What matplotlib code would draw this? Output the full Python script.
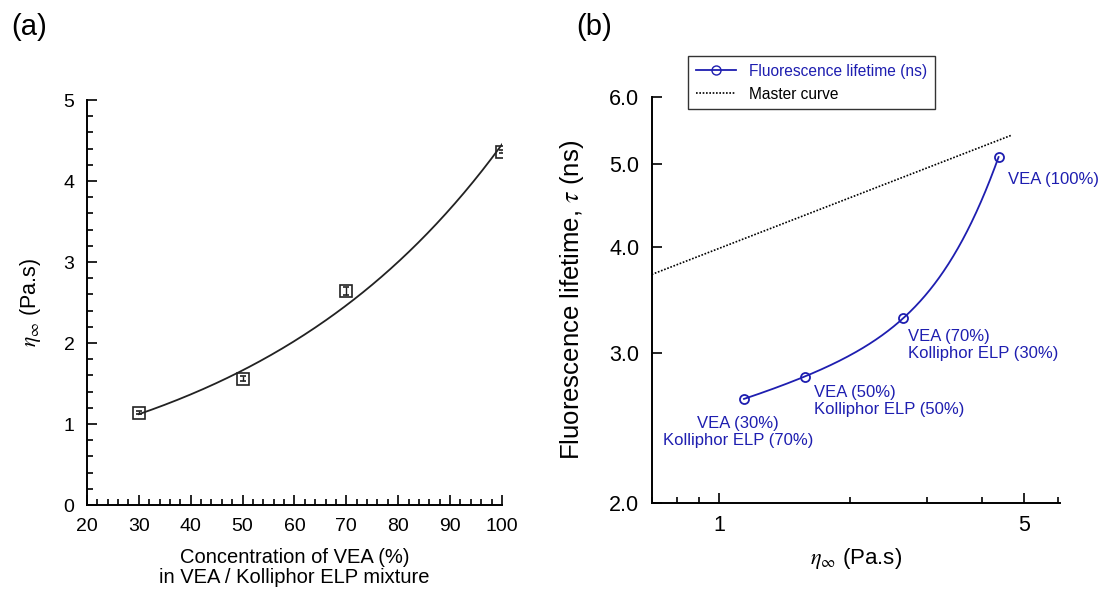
import numpy as np
import matplotlib
matplotlib.use("Agg")
import matplotlib.pyplot as plt
from matplotlib.ticker import (FixedLocator, NullLocator, FixedFormatter, NullFormatter,
                               MultipleLocator)

plt.rcParams["font.family"] = ["Liberation Sans", "DejaVu Sans"]
plt.rcParams["mathtext.fontset"] = "stix"

# (a) viscosity vs VEA concentration
conc = [30, 50, 70, 100]
eta_inf = [1.14, 1.56, 2.64, 4.36]
eta_err = [0.02, 0.03, 0.05, 0.02]

# (b) fluorescence lifetime vs viscosity
eta_b = [1.14, 1.57, 2.645, 4.375]
tau = [2.65, 2.815, 3.297, 5.096]
point_labels = ["VEA (30%)\nKolliphor ELP (70%)",
                "VEA (50%)\nKolliphor ELP (50%)",
                "VEA (70%)\nKolliphor ELP (30%)",
                "VEA (100%)"]
master_eta = [0.70, 4.70]
master_tau = [3.71, 5.41]

blue = "#1e1eb0"

fig = plt.figure(figsize=(11.01, 5.99), dpi=100)
ax1 = fig.add_axes([0.0790, 0.1569, 0.3769, 0.6761])
ax2 = fig.add_axes([0.5919, 0.1603, 0.3708, 0.6783])

# ---- panel (a)
ax1.errorbar(conc, eta_inf, yerr=eta_err, fmt="s", ms=8.5, mfc="none", mec="#222222",
             mew=1.2, ecolor="#222222", elinewidth=1, capsize=2, zorder=3)
# exponential fit through the points
b, lna = np.polyfit(conc, np.log(eta_inf), 1)
xf = np.linspace(conc[0], conc[-1] + 0.5, 200)
ax1.plot(xf, np.exp(lna + b * xf), color="#222222", lw=1.3)

ax1.set_xlim(20, 100)
ax1.set_ylim(0, 5)
ax1.xaxis.set_major_locator(MultipleLocator(10))
ax1.xaxis.set_minor_locator(MultipleLocator(2))
ax1.yaxis.set_major_locator(MultipleLocator(1))
ax1.yaxis.set_minor_locator(MultipleLocator(0.2))
ax1.set_xlabel("Concentration of VEA (%)\nin VEA / Kolliphor ELP mixture", fontsize=14.5,
               linespacing=1.1)
ax1.set_ylabel(r"$\eta_{\infty}$ (Pa.s)", fontsize=15.5)
ax1.xaxis.set_label_coords(0.5, -0.105)
ax1.yaxis.set_label_coords(-0.105, 0.5)

# ---- panel (b)
ax2.set_xscale("log")
ax2.set_yscale("log")
h_mc, = ax2.plot(master_eta, master_tau, color="black", ls=(0, (1, 1)), lw=1.2)
# smooth curve through the measured points
cf = np.polyfit(eta_b, tau, 3)
xs = np.linspace(eta_b[0], eta_b[-1], 300)
ax2.plot(xs, np.polyval(cf, xs), color=blue, lw=1.3)
ax2.plot(eta_b, tau, "o", ms=6.5, mfc="none", mec=blue, mew=1.3)
# legend proxy
h_fl, = ax2.plot([], [], color=blue, lw=1.3, marker="o", ms=6.5, mfc="none", mec=blue)

offsets = [(-4.5, -24), (6.5, -17.5), (3.5, -19.5), (6.5, -16)]
aligns = ["center", "left", "left", "left"]
for x, y, lab, off, ha in zip(eta_b, tau, point_labels, offsets, aligns):
    ax2.annotate(lab, (x, y), xytext=off, textcoords="offset points", ha=ha, va="center",
                 color=blue, fontsize=12, multialignment=ha, linespacing=1.15)

ax2.set_xlim(0.7, 6.05)
ax2.set_ylim(2, 6)
ax2.xaxis.set_major_locator(FixedLocator([1, 5]))
ax2.xaxis.set_major_formatter(FixedFormatter(["1", "5"]))
ax2.xaxis.set_minor_locator(FixedLocator([0.7, 0.8, 0.9, 2, 3, 4, 6]))
ax2.xaxis.set_minor_formatter(NullFormatter())
ax2.yaxis.set_major_locator(FixedLocator([2, 3, 4, 5, 6]))
ax2.yaxis.set_major_formatter(FixedFormatter(["2.0", "3.0", "4.0", "5.0", "6.0"]))
ax2.yaxis.set_minor_locator(NullLocator())
ax2.yaxis.set_minor_formatter(NullFormatter())
ax2.set_xlabel(r"$\eta_{\infty}$ (Pa.s)", fontsize=16)
ax2.set_ylabel(r"Fluorescence lifetime, $\tau$ (ns)", fontsize=18.5)
ax2.xaxis.set_label_coords(0.5, -0.105)
ax2.yaxis.set_label_coords(-0.16, 0.5)

leg = ax2.legend([h_fl, h_mc], ["Fluorescence lifetime (ns)", "Master curve"],
                 loc="upper left", bbox_to_anchor=(0.089, 1.10), fontsize=11.2,
                 frameon=True, fancybox=False, edgecolor="black", handlelength=2.6,
                 borderaxespad=0, borderpad=0.5, labelspacing=0.5)
leg.get_frame().set_linewidth(1.0)
leg.get_texts()[0].set_color(blue)

for ax in (ax1, ax2):
    for s in ("top", "right"):
        ax.spines[s].set_visible(False)
    for s in ("left", "bottom"):
        ax.spines[s].set_linewidth(1.4)
    ax.tick_params(which="both", direction="in", width=1.2)
    ax.tick_params(which="major", length=7, pad=9)
    ax.tick_params(which="minor", length=4)
ax1.tick_params(labelsize=14)
ax2.tick_params(labelsize=15.5)

fig.text(0.010, 0.955, "(a)", fontsize=21, va="center", ha="left")
fig.text(0.523, 0.955, "(b)", fontsize=21, va="center", ha="left")

fig.savefig("out.png", dpi=100)
